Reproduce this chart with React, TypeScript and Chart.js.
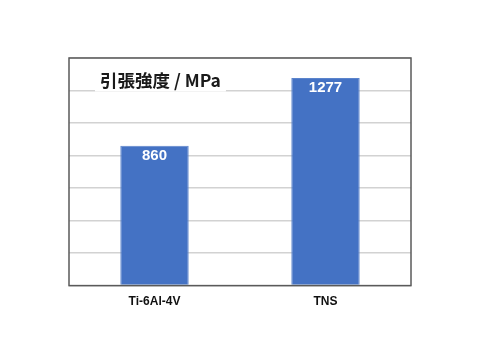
import React, { useEffect, useRef } from "react";
import { Chart, registerables } from "chart.js";

Chart.register(...registerables);

const categories = ["Ti-6Al-4V", "TNS"];
const strengthValues = [860, 1277];
const axisTitle = "引張強度 / MPa";
const yMax = 1400;
const yStep = 200;

const plotFrame = {
  id: "plotFrame",
  afterDraw(chart: any) {
    const { ctx, chartArea: a } = chart;
    ctx.save();
    ctx.strokeStyle = "#5a5a5a";
    ctx.lineWidth = 1.5;
    ctx.strokeRect(a.left, a.top, a.right - a.left, a.bottom - a.top);
    ctx.restore();
  },
};

const titleBox = {
  id: "titleBox",
  afterDatasetsDraw(chart: any) {
    const { ctx, chartArea: a } = chart;
    ctx.save();
    ctx.font = 'bold 17.5px "Noto Sans CJK JP", "Liberation Sans", sans-serif';
    const w = ctx.measureText(axisTitle).width;
    const x = a.left + 31;
    const cy = a.top + 22.5;
    ctx.fillStyle = "#ffffff";
    ctx.fillRect(x - 5, cy - 11, w + 10, 22);
    ctx.fillStyle = "#1a1a1a";
    ctx.textBaseline = "middle";
    ctx.textAlign = "left";
    ctx.fillText(axisTitle, x, cy);
    ctx.restore();
  },
};

const valueLabels = {
  id: "valueLabels",
  afterDatasetsDraw(chart: any) {
    const { ctx } = chart;
    const meta = chart.getDatasetMeta(0);
    const data = chart.data.datasets[0].data as number[];
    ctx.save();
    ctx.font = 'bold 15px "Liberation Sans", Arial, sans-serif';
    ctx.fillStyle = "#ffffff";
    ctx.textAlign = "center";
    ctx.textBaseline = "middle";
    meta.data.forEach((bar: any, i: number) => {
      ctx.fillText(String(data[i]), bar.x, bar.y + 10);
    });
    ctx.restore();
  },
};

export default function App() {
  const canvasRef = useRef<HTMLCanvasElement>(null);

  useEffect(() => {
    document.body.style.margin = "0";
    const chart = new Chart(canvasRef.current!, {
      type: "bar",
      data: {
        labels: categories,
        datasets: [
          {
            data: strengthValues,
            backgroundColor: "#4472c4",
            borderColor: "#5b84cc",
            borderWidth: 1,
            barPercentage: 0.4,
            categoryPercentage: 1,
          },
        ],
      },
      options: {
        animation: false,
        responsive: false,
        layout: { padding: { left: 69, right: 69, top: 58, bottom: 50 } },
        plugins: {
          legend: { display: false },
          tooltip: { enabled: false },
          title: { display: false },
        },
        scales: {
          x: {
            grid: { display: false },
            border: { display: false },
            ticks: {
              padding: 1,
              color: "#111111",
              font: { family: '"Liberation Sans", Arial, sans-serif', size: 12, weight: "bold" },
            },
          },
          y: {
            min: 0,
            max: yMax,
            ticks: { display: false, stepSize: yStep },
            grid: { color: "#d2d2d2", lineWidth: 1.5, drawTicks: false },
            border: { display: false },
          },
        },
      },
      plugins: [plotFrame, titleBox, valueLabels],
    });
    return () => chart.destroy();
  }, []);

  return (
    <div style={{ width: 480, height: 360, background: "#ffffff" }}>
      <canvas ref={canvasRef} width={480} height={360} />
    </div>
  );
}
